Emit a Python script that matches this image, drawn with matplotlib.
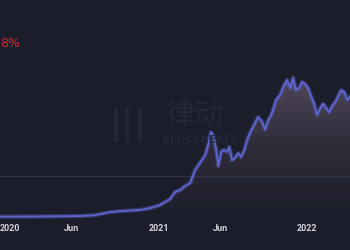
import matplotlib
matplotlib.use("Agg")
import matplotlib.pyplot as plt
import matplotlib.dates as mdates
import numpy as np
import pandas as pd
from matplotlib.colors import LinearSegmentedColormap

# ---------- data ----------
dates = [
    "2019-12-07", "2020-03-15", "2020-06-21", "2020-07-28", "2020-09-03",
    "2020-09-27", "2020-11-16", "2020-12-10", "2021-01-04", "2021-01-16",
    "2021-01-29", "2021-02-10", "2021-02-22", "2021-03-06", "2021-03-19",
    "2021-03-31", "2021-04-12", "2021-04-25", "2021-05-02", "2021-05-09",
    "2021-05-14", "2021-05-22", "2021-05-27", "2021-06-03", "2021-06-10",
    "2021-06-18", "2021-06-23", "2021-06-30", "2021-07-07", "2021-07-15",
    "2021-07-22", "2021-07-30", "2021-08-06", "2021-08-13", "2021-08-23",
    "2021-09-02", "2021-09-12", "2021-09-19", "2021-09-27", "2021-10-07",
    "2021-10-16", "2021-10-26", "2021-11-05", "2021-11-12", "2021-11-20",
    "2021-11-27", "2021-12-04", "2021-12-12", "2021-12-19", "2021-12-27",
    "2022-01-03", "2022-01-10", "2022-01-18", "2022-01-25", "2022-02-02",
    "2022-02-09", "2022-02-16", "2022-02-24", "2022-03-03", "2022-03-11",
    "2022-03-18", "2022-03-25", "2022-04-02", "2022-04-09", "2022-04-16",
]
values = [
    7.5, 8, 9, 11, 18,
    20, 23, 27, 34, 41,
    48, 64, 68, 77, 84,
    114, 130, 148, 170, 200,
    193, 159, 123, 155, 159,
    155, 166, 136, 141, 152,
    143, 159, 182, 198, 216,
    234, 223, 205, 227, 245,
    273, 284, 307, 318, 300,
    323, 295, 300, 314, 309,
    300, 282, 264, 239, 255,
    264, 255, 245, 259, 268,
    282, 295, 291, 273, 280,
]
tick_dates = ["2020-01-01", "2020-06-01", "2021-01-01", "2021-06-01", "2022-01-01"]
tick_labels = ["2020", "Jun", "2021", "Jun", "2022"]
grid_value = 100
header_text = "8%"

BG = "#1b1e2a"
LINE = "#5c63cc"
MARK = "#232738"

x = pd.to_datetime(dates)
xn = mdates.date2num(x)

fig = plt.figure(figsize=(3.5, 2.5), dpi=100, facecolor=BG)
ax = fig.add_axes([0, 0.12, 1, 0.88], facecolor=BG)
ax.set_xlim(xn[0], xn[-1])
ax.set_ylim(0, 500)

# gradient fill under the curve
cmap = LinearSegmentedColormap.from_list("fade", [BG, "#2e2b38", "#4d4659"])
grad = np.linspace(0, 1, 256).reshape(-1, 1)
img = ax.imshow(grad, cmap=cmap, aspect="auto", origin="lower",
                extent=[xn[0], xn[-1], 0, 320], zorder=1)
poly = ax.fill_between(xn, values, 0, color="none", lw=0)
img.set_clip_path(poly.get_paths()[0], transform=ax.transData)

ax.axhline(grid_value, color="#343857", lw=0.6, zorder=2)

# line with a soft glow
ax.plot(xn, values, color=LINE, lw=3.2, alpha=0.35, zorder=3, solid_joinstyle="round")
ax.plot(xn, values, color=LINE, lw=1.4, zorder=4, solid_joinstyle="round")

ax.set_xticks(mdates.date2num(pd.to_datetime(tick_dates)))
ax.set_xticklabels(tick_labels, fontsize=6.5, color="#d4d4dc", fontfamily="Roboto",
                   fontweight="bold")
ax.tick_params(axis="x", length=0, pad=3)
ax.set_yticks([])
for s in ax.spines.values():
    s.set_visible(False)

# watermark
fig.text(0.365, 0.5, "|||", fontsize=24, color=MARK, fontweight="bold",
         ha="center", va="center", zorder=0)
fig.text(0.555, 0.535, "律动", fontsize=21, color=MARK,
         fontfamily=["Noto Sans CJK SC", "DejaVu Sans"], ha="center", va="center", zorder=0)
fig.text(0.57, 0.44, "BLOCKBEATS", fontsize=7.5, color=MARK, fontweight="bold",
         ha="center", va="center", zorder=0)

fig.text(0.0, 0.825, header_text, fontsize=9, color="#c8302c", ha="left", va="center")

fig.savefig("out.png", dpi=100, facecolor=BG)
